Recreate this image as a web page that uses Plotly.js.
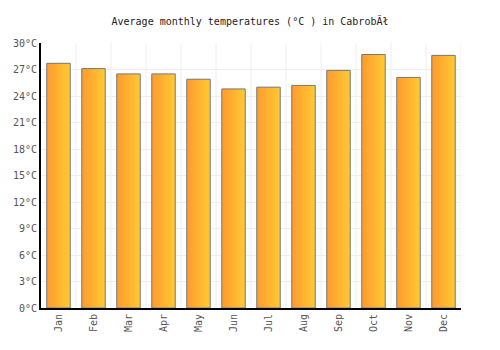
<!DOCTYPE html>
<html>
<head>
<meta charset="utf-8">
<script src="https://cdn.plot.ly/plotly-3.0.1.min.js"></script>
<style>html,body{margin:0;padding:0;background:#fff;}#chart{width:500px;height:350px;}</style>
</head>
<body>
<div id="chart"></div>
<script>
const months = ["Jan","Feb","Mar","Apr","May","Jun","Jul","Aug","Sep","Oct","Nov","Dec"];
const temps = [27.7, 27.1, 26.5, 26.5, 25.9, 24.8, 25.0, 25.2, 26.9, 28.7, 26.1, 28.6];
const tickVals = [0,3,6,9,12,15,18,21,24,27,30];
const tickText = tickVals.map(v => v + "°C");
const titleText = "Average monthly temperatures (°C ) in CabrobĂł";

const font = "DejaVu Sans Mono, monospace";
const trace = {
  type: "bar",
  x: months,
  y: temps,
  marker: {color: "#ffb330", line: {color: "#777777", width: 1}},
  hoverinfo: "none"
};
const layout = {
  width: 500, height: 350,
  margin: {l: 41, r: 39, t: 43, b: 42},
  paper_bgcolor: "#fff", plot_bgcolor: "#fff",
  bargap: 0.33,
  showlegend: false,
  title: {text: titleText, font: {family: font, size: 10, color: "#222"}, x: 0.5, xanchor: "center", y: 0.94, yanchor: "middle"},
  xaxis: {
    type: "category",
    tickangle: -90,
    tickfont: {family: font, size: 10, color: "#555"},
    showgrid: false,
    showline: true, linecolor: "#000", linewidth: 2,
    ticks: "", ticklen: 0,
    range: [-0.5, 11.5]
  },
  yaxis: {
    range: [0, 30],
    tickvals: tickVals, ticktext: tickText,
    tickfont: {family: font, size: 10, color: "#555"},
    showgrid: true, gridcolor: "#eeeeee", gridwidth: 1,
    showline: true, linecolor: "#000", linewidth: 2,
    zeroline: false,
    ticks: "", ticklen: 0
  },
  shapes: months.slice(0, 12).map((m, i) => ({
    type: "line", xref: "x", yref: "paper",
    x0: i + 0.5, x1: i + 0.5, y0: 0, y1: 1,
    line: {color: "#eeeeee", width: 1}, layer: "below"
  }))
};
const gd = document.getElementById("chart");
function applyGradient() {
  const svg = gd.querySelector("svg.main-svg");
  if (!svg) return;
  let defs = svg.querySelector("defs");
  if (!defs) { defs = document.createElementNS("http://www.w3.org/2000/svg", "defs"); svg.insertBefore(defs, svg.firstChild); }
  if (!svg.querySelector("#barGrad")) {
    const g = document.createElementNS("http://www.w3.org/2000/svg", "linearGradient");
    g.setAttribute("id", "barGrad");
    g.setAttribute("x1", "0"); g.setAttribute("y1", "0"); g.setAttribute("x2", "1"); g.setAttribute("y2", "0");
    [["0", "#ff9a2e"], ["1", "#ffca33"]].forEach(([o, c]) => {
      const s = document.createElementNS("http://www.w3.org/2000/svg", "stop");
      s.setAttribute("offset", o); s.setAttribute("stop-color", c);
      g.appendChild(s);
    });
    defs.appendChild(g);
  }
  gd.querySelectorAll(".bars .point path").forEach(p => { p.style.fill = "url(#barGrad)"; });
}
Plotly.newPlot(gd, [trace], layout, {staticPlot: true, displayModeBar: false}).then(() => {
  applyGradient();
  gd.on("plotly_afterplot", applyGradient);
});
</script>
</body>
</html>
